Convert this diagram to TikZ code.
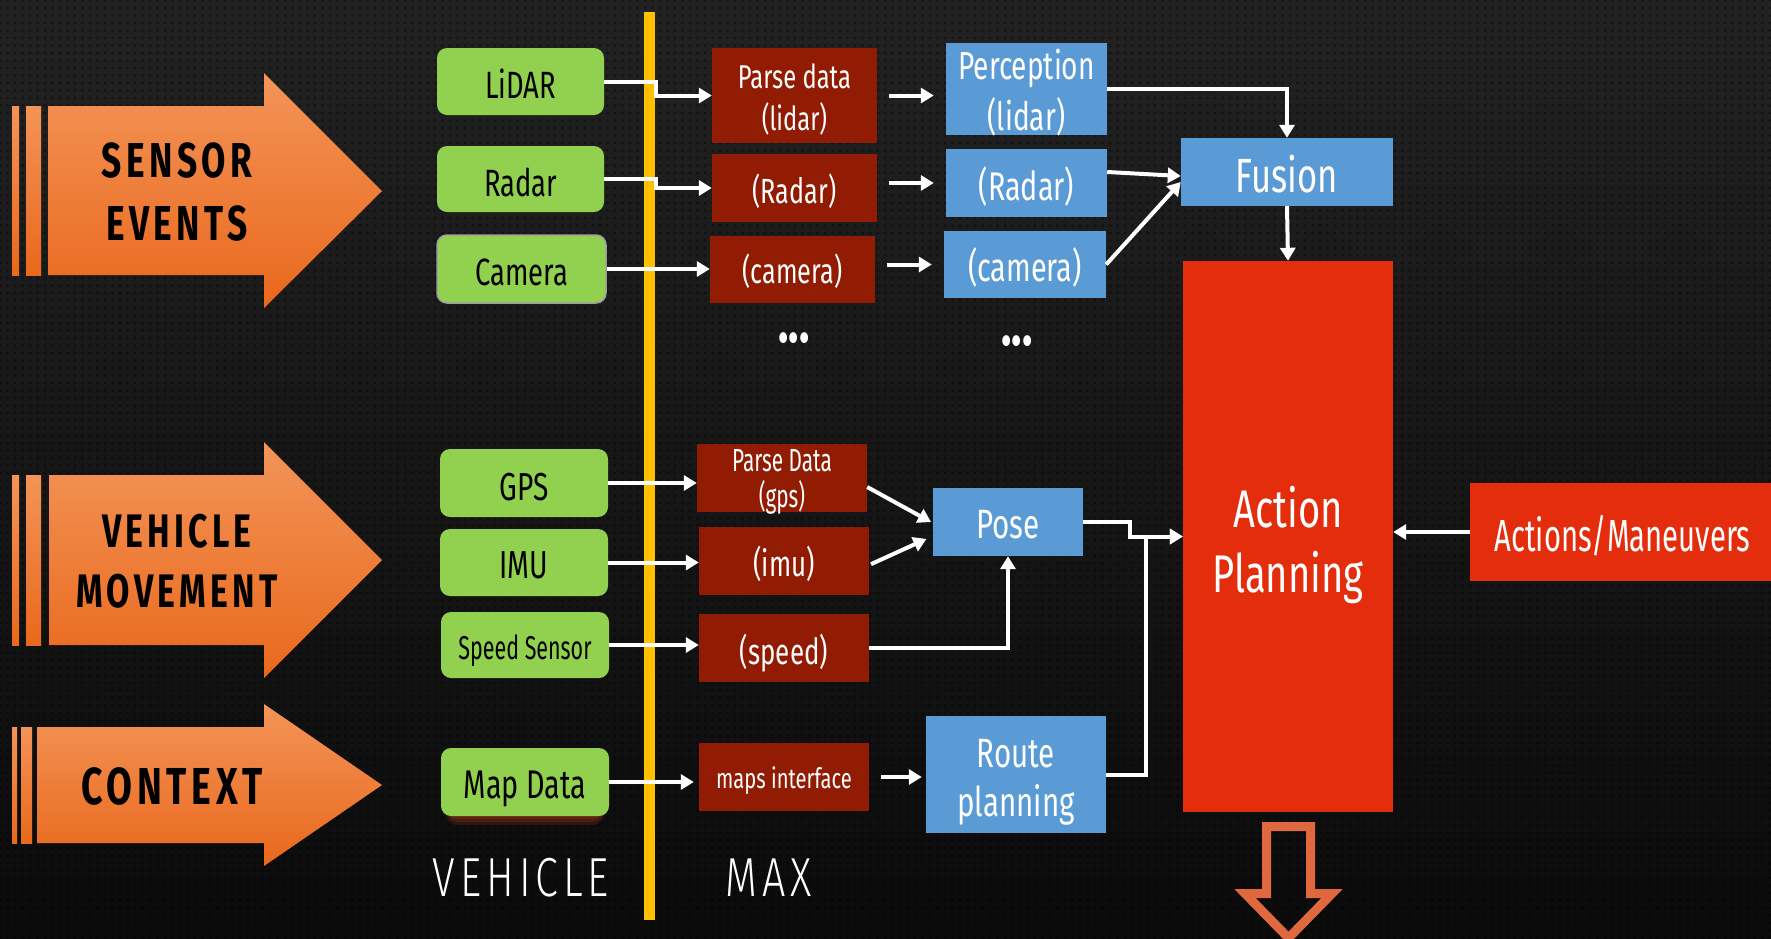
\documentclass[tikz,border=0pt]{standalone}
\usepackage{fontspec}
\setmainfont{Fira Sans}[FakeStretch=0.72]
\newfontfamily\narrowfont{Fira Sans}[FakeStretch=0.65]
\newfontfamily\bannerfont{Fira Sans}[FakeStretch=0.72, LetterSpace=9]
\IfFontExistsTF{Fira Sans Light}
  {\newfontfamily\sidefont{Fira Sans Light}[FakeStretch=0.75, LetterSpace=9]}
  {\IfFontExistsTF{FiraSans-Light.otf}
    {\newfontfamily\sidefont{FiraSans-Light.otf}[FakeStretch=0.75, LetterSpace=9]}
    {\IfFontExistsTF{Lato Light}
      {\newfontfamily\sidefont{Lato Light}[FakeStretch=0.72, LetterSpace=9]}
      {\newfontfamily\sidefont{Fira Sans}[FakeStretch=0.75, LetterSpace=9]}}}
\usetikzlibrary{arrows.meta,patterns.meta}

\definecolor{bgtop}{HTML}{222222}
\definecolor{bgbot}{HTML}{0B0B0B}
\definecolor{sgreen}{HTML}{92D050}
\definecolor{parsered}{HTML}{921B03}
\definecolor{procblue}{HTML}{5B9BD5}
\definecolor{planred}{HTML}{E32D0C}
\definecolor{boundaryyellow}{HTML}{FFC000}
\definecolor{orangetop}{HTML}{F39458}
\definecolor{orangebot}{HTML}{E9681C}
\definecolor{outarrow}{HTML}{E0683F}
\definecolor{glowred}{HTML}{C8441A}

\newcommand\fsz[2]{\fontsize{#1}{#2}\selectfont}
% lower a line of text without changing the box it occupies
\newcommand\dn[2]{\raisebox{-#1pt}[\height][\depth]{#2}}

\begin{document}
\begin{tikzpicture}[x=1pt, y=-1pt,
  conn/.style={draw=white, line width=4pt, -{Triangle[width=15pt,length=13pt]}},
  anybox/.style={inner sep=0pt, align=center},
  gbox/.style={anybox, fill=sgreen, rounded corners=10pt, text=black},
  pbox/.style={anybox, fill=parsered, text=white},
  bbox/.style={anybox, fill=procblue, text=white},
  rbox/.style={anybox, fill=planred, text=white},
  banner/.style={align=center, text=black, inner sep=0pt},
  orangefill/.style={top color=orangetop, bottom color=orangebot},
  sidelabel/.style={text=white, inner sep=0pt, font=\sidefont\fsz{55}{60}},
  ellipsis/.style={text=white, inner sep=0pt, font=\fsz{60}{60}\bfseries}
]
\useasboundingbox (0,0) rectangle (1771,938);
\clip (0,0) rectangle (1771,938);

% background with a fine dot texture
\shade[top color=bgtop, bottom color=bgbot] (0,0) rectangle (1771,938);
\fill[pattern={Dots[distance=7.5pt, radius=1.6pt]}, pattern color=black, fill opacity=0.35] (0,0) rectangle (1771,938);

% input banners
\shade[orangefill] (48,106) -- (264,106) -- (264,73) -- (382,191) -- (264,308) -- (264,275) -- (48,275) -- cycle;
\shade[orangefill] (12,106) rectangle (19,275);
\shade[orangefill] (26,106) rectangle (41,275);
\node[banner, font=\bannerfont\bfseries\fsz{49}{63}] (sensorlbl) at (177,192) {SENSOR\\EVENTS};

\shade[orangefill] (49,475) -- (264,475) -- (264,442) -- (382,560) -- (264,678) -- (264,645) -- (49,645) -- cycle;
\shade[orangefill] (12,475) rectangle (19,645);
\shade[orangefill] (26,475) rectangle (41,645);
\node[banner, font=\bannerfont\bfseries\fsz{47}{60}] (vehiclelbl) at (177,561) {VEHICLE\\MOVEMENT};

\shade[orangefill] (37,727) -- (264,727) -- (264,704) -- (382,785) -- (264,866) -- (264,843) -- (37,843) -- cycle;
\shade[orangefill] (12,727) rectangle (17,843);
\shade[orangefill] (21,727) rectangle (32,843);
\node[banner, font=\bannerfont\bfseries\fsz{52}{60}] (contextlbl) at (172,786) {CONTEXT};

% vehicle / MAX boundary
\fill[fill=boundaryyellow] (644,12) rectangle (655,920);

% soft glow under the map data source
\foreach \d in {2,5,8,11}
  \fill[glowred, fill opacity=0.18, rounded corners=12pt] (446,770) rectangle (604,814+\d);

% vehicle-side sources
\node[gbox, minimum width=167pt, minimum height=67pt, font=\fsz{38}{44}] (lidar) at (520.5,81.5) {\dn{2}{LiDAR}};
\node[gbox, minimum width=167pt, minimum height=66pt, font=\fsz{38}{44}] (radar) at (520.5,179) {\dn{3}{Radar}};
\node[gbox, minimum width=169pt, minimum height=68pt, font=\fsz{38}{44}, draw=gray!75, line width=1.5pt] (camera) at (521.5,269) {\dn{3}{Camera}};
\node[gbox, minimum width=168pt, minimum height=68pt, font=\fsz{39}{44}] (gps) at (524,483) {\dn{4}{GPS}};
\node[gbox, minimum width=168pt, minimum height=67pt, font=\fsz{39}{44}] (imu) at (524,562.5) {\dn{3}{IMU}};
\node[gbox, minimum width=168pt, minimum height=66pt, font=\narrowfont\fsz{33}{40}] (speed) at (525,645) {\dn{6}{Speed Sensor}};
\node[gbox, minimum width=168pt, minimum height=68pt, font=\fsz{40}{44}] (mapdata) at (525,782) {\dn{7}{Map Data}};

% parsing stage
\node[pbox, minimum width=165pt, minimum height=95pt, font=\fsz{33}{42}] (parsel) at (794.5,95.5) {\dn{4}{Parse data}\\\dn{4}{(lidar)}};
\node[pbox, minimum width=165pt, minimum height=68pt, font=\fsz{35}{42}] (radarr) at (794.5,188) {\dn{3}{(Radar)}};
\node[pbox, minimum width=165pt, minimum height=67pt, font=\fsz{35}{42}] (camr) at (792.5,269.5) {\dn{2}{(camera)}};
\node[pbox, minimum width=170pt, minimum height=68pt, font=\narrowfont\fsz{32}{36}] (parseg) at (782,478) {\dn{4}{Parse Data}\\\dn{4}{(gps)}};
\node[pbox, minimum width=170pt, minimum height=68pt, font=\fsz{36}{42}] (imur) at (784,561) {\dn{3}{(imu)}};
\node[pbox, minimum width=170pt, minimum height=68pt, font=\fsz{36}{42}] (speedr) at (784,648) {\dn{5}{(speed)}};
\node[pbox, minimum width=170pt, minimum height=68pt, font=\fsz{28}{34}] (mapsr) at (784,777) {\dn{4}{maps interface}};
\node[ellipsis] (dotsr) at (794,338) {...};

% processing stage
\node[bbox, minimum width=161pt, minimum height=92pt, font=\fsz{39}{51}] (percl) at (1026.5,89) {\dn{4}{Perception}\\\dn{4}{(lidar)}};
\node[bbox, minimum width=161pt, minimum height=68pt, font=\fsz{40}{46}] (radarb) at (1026.5,183) {\dn{3}{(Radar)}};
\node[bbox, minimum width=162pt, minimum height=67pt, font=\fsz{40}{46}] (camb) at (1025,264.5) {\dn{3}{(camera)}};
\node[ellipsis] (dotsb) at (1017,341) {...};
\node[bbox, minimum width=212pt, minimum height=68pt, font=\fsz{48}{54}] (fusion) at (1287,172) {\dn{2}{Fusion}};
\node[bbox, minimum width=150pt, minimum height=68pt, font=\fsz{41}{48}] (pose) at (1008,522) {\dn{3}{Pose}};
\node[bbox, minimum width=180pt, minimum height=117pt, font=\fsz{41}{49}] (route) at (1016,774.5) {\dn{8}{Route}\\\dn{8}{planning}};

% planning
\node[rbox, minimum width=210pt, minimum height=551pt, font=\fsz{53}{65}] (action) at (1288,536.5) {\dn{8}{Action}\\\dn{8}{Planning}};
\node[rbox, minimum width=305pt, minimum height=98pt, font=\narrowfont\fsz{45}{52}] (maneuvers) at (1622.5,532) {\dn{4}{Actions/Maneuvers}};

% side labels
\node[sidelabel] (vehside) at (521,878) {VEHICLE};
\node[sidelabel] (maxside) at (769,878) {MAX};

% output arrow
\draw[outarrow, line width=9pt, line join=miter]
  (1266.5,826.5) -- (1310.5,826.5) -- (1310.5,893.5) -- (1332,893.5)
  -- (1288.5,938) -- (1245,893.5) -- (1266.5,893.5) -- cycle;

% sensor connectors
\draw[conn] (lidar.east) -- ++(52,0) |- (parsel.west);
\draw[conn] (radar.east) -- ++(52,0) |- (radarr.west);
\draw[conn] (camera.east) -- (camera.east -| camr.west);
\draw[conn, shorten <=12pt, shorten >=12pt] (parsel.east) -- (parsel.east -| percl.west);
\draw[conn, shorten <=12pt, shorten >=12pt] (radarb.west -| radarr.east) -- (radarb.west);
\draw[conn, shorten <=12pt, shorten >=12pt] (camb.west -| camr.east) -- (camb.west);
\draw[conn] (percl.east) -| (fusion.north);
\draw[conn] ([yshift=11pt]radarb.east) -- ([yshift=-4pt]fusion.west);
\draw[conn] (camb.east) -- ([yshift=-10pt]fusion.west);
\draw[conn] (fusion.south) -- (action.north);

% movement and context connectors
\draw[conn] (gps.east) -- (gps.east -| parseg.west);
\draw[conn] (imu.east) -- (imu.east -| imur.west);
\draw[conn] (speed.east) -- (speed.east -| speedr.west);
\draw[conn, shorten >=5pt] (mapdata.east) -- (mapdata.east -| mapsr.west);
\draw[conn, shorten >=2pt] ([yshift=-9pt]parseg.east) -- ([yshift=-1pt]pose.west);
\draw[conn, shorten <=2pt, shorten >=7pt] ([yshift=-4pt]imur.east) -- ([yshift=-14pt]pose.west);
\draw[conn] (speedr.east) -| (pose.south);
\draw[conn, shorten <=12pt, shorten >=4pt] (mapsr.east) -- (mapsr.east -| route.west);
\draw[conn] (pose.east) -- ++(47,0) |- (action.west);
\draw[conn] (route.east) -- ++(40,0) |- (action.west);
\draw[conn] (maneuvers.west) -- (maneuvers.west -| action.east);
\end{tikzpicture}
\end{document}
